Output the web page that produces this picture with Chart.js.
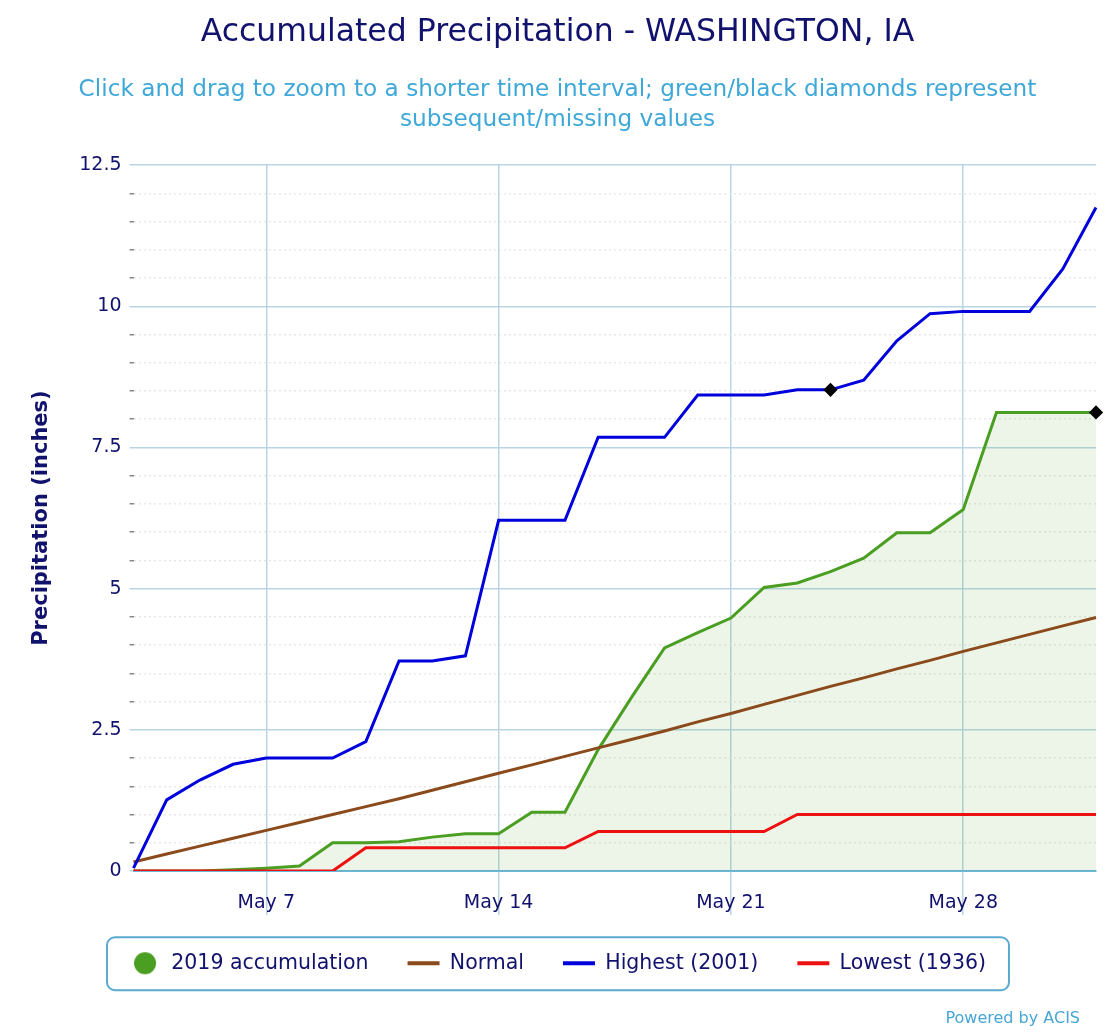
<!DOCTYPE html>
<html>
<head>
<meta charset="utf-8">
<title>Accumulated Precipitation - WASHINGTON, IA</title>
<script src="https://cdn.jsdelivr.net/npm/chart.js@4.4.1/dist/chart.umd.min.js"></script>
<style>
    html, body { margin: 0; padding: 0; background: #fff; }
    #wrap { position: relative; width: 1116px; height: 1032px; }
</style>
</head>
<body>
<div id="wrap"><canvas id="chartPrecip" width="1116" height="1032"></canvas></div>
<script>
// Days shown on the x axis
const dates = [
    'May 3', 'May 4', 'May 5', 'May 6', 'May 7', 'May 8', 'May 9', 'May 10',
    'May 11', 'May 12', 'May 13', 'May 14', 'May 15', 'May 16', 'May 17', 'May 18',
    'May 19', 'May 20', 'May 21', 'May 22', 'May 23', 'May 24', 'May 25', 'May 26',
    'May 27', 'May 28', 'May 29', 'May 30', 'May 31', 'Jun 1'
];
const tickLabels = ['May 7', 'May 14', 'May 21', 'May 28'];

// Accumulated precipitation (inches)
const accum2019 = [
    0, 0, 0, 0.02, 0.05, 0.09, 0.50, 0.50, 0.52, 0.60,
    0.66, 0.66, 1.04, 1.04, 2.15, 3.07, 3.95, 4.22, 4.48, 5.02,
    5.10, 5.30, 5.54, 5.99, 5.99, 6.40, 8.12, 8.12, 8.12, 8.12
];
const normal = [
    0.16, 0.30, 0.44, 0.58, 0.72, 0.86, 1.00, 1.14, 1.28, 1.43,
    1.58, 1.73, 1.88, 2.03, 2.18, 2.33, 2.48, 2.64, 2.79, 2.95,
    3.11, 3.27, 3.42, 3.58, 3.73, 3.89, 4.04, 4.19, 4.34, 4.49
];
const highest2001 = [
    0.05, 1.26, 1.61, 1.89, 2.00, 2.00, 2.00, 2.29, 3.72, 3.72,
    3.81, 6.21, 6.21, 6.21, 7.68, 7.68, 7.68, 8.43, 8.43, 8.43,
    8.52, 8.52, 8.69, 9.39, 9.87, 9.91, 9.91, 9.91, 10.66, 11.75
];
const lowest1936 = [
    0, 0, 0, 0, 0, 0, 0, 0.41, 0.41, 0.41,
    0.41, 0.41, 0.41, 0.41, 0.70, 0.70, 0.70, 0.70, 0.70, 0.70,
    1.00, 1.00, 1.00, 1.00, 1.00, 1.00, 1.00, 1.00, 1.00, 1.00
];

// Days carrying a black diamond (subsequent/missing values)
const diamondsHighest = ['May 24'];
const diamonds2019 = ['Jun 1'];

const NAVY = '#11116e';
const GRID = '#b9d5e4';
const FONT = '"DejaVu Sans", sans-serif';

const diamondRadius = (list) => (ctx) => list.includes(dates[ctx.dataIndex]) ? 5 : 0;

// Round legend marker for the 2019 series (keeps the line markers wide)
const dotMarker = (color) => {
    const c = document.createElement('canvas');
    c.width = 24; c.height = 24;
    const g = c.getContext('2d');
    g.fillStyle = color;
    g.beginPath();
    g.arc(12, 12, 11, 0, Math.PI * 2);
    g.fill();
    return c;
};

// Rounded frame around the legend + credit text
const legendFrame = {
    id: 'legendFrame',
    afterDraw(chart) {
        const lg = chart.legend;
        if (!lg || !lg.legendHitBoxes.length) return;
        const boxes = lg.legendHitBoxes;
        const left = Math.min(...boxes.map(b => b.left)) - 22;
        const right = Math.max(...boxes.map(b => b.left + b.width)) + 23;
        const mid = boxes[0].top + boxes[0].height / 2;
        const top = mid - 26, h = 53;
        const ctx = chart.ctx;
        ctx.save();
        ctx.strokeStyle = '#5aaacf';
        ctx.lineWidth = 2;
        ctx.beginPath();
        ctx.roundRect(left, top, right - left, h, 8);
        ctx.stroke();
        ctx.fillStyle = '#47a6d6';
        ctx.font = '16px ' + FONT;
        ctx.textAlign = 'right';
        ctx.textBaseline = 'alphabetic';
        ctx.fillText('Powered by ACIS', 1080, 1023);
        ctx.restore();
    }
};

const isMajor = (v) => Math.abs(v / 2.5 - Math.round(v / 2.5)) < 1e-6;

new Chart(document.getElementById('chartPrecip'), {
    type: 'line',
    data: {
        labels: dates,
        datasets: [
            {
                label: '2019 accumulation',
                data: accum2019,
                borderColor: '#4a9e22',
                backgroundColor: 'rgba(74, 158, 34, 0.1)',
                fill: 'origin',
                borderWidth: 3,
                pointStyle: 'rectRot',
                pointRadius: diamondRadius(diamonds2019),
                pointBackgroundColor: '#000',
                pointBorderColor: '#000',
                order: 4
            },
            {
                label: 'Normal',
                data: normal,
                borderColor: '#8b4a1c',
                borderWidth: 3,
                pointRadius: 0,
                order: 3
            },
            {
                label: 'Highest (2001)',
                data: highest2001,
                borderColor: '#0000dd',
                borderWidth: 3,
                pointStyle: 'rectRot',
                pointRadius: diamondRadius(diamondsHighest),
                pointBackgroundColor: '#000',
                pointBorderColor: '#000',
                order: 2
            },
            {
                label: 'Lowest (1936)',
                data: lowest1936,
                borderColor: '#ee1111',
                borderWidth: 3,
                pointRadius: 0,
                order: 1
            }
        ]
    },
    options: {
        responsive: false,
        animation: false,
        devicePixelRatio: 1,
        layout: { padding: { left: 19, right: 20, top: 0, bottom: 48.5 } },
        elements: { line: { tension: 0 } },
        plugins: {
            title: {
                display: true,
                text: 'Accumulated Precipitation - WASHINGTON, IA',
                color: NAVY,
                font: { family: FONT, size: 31.5, weight: 'normal', lineHeight: 1.2 },
                padding: { top: 14, bottom: 8 }
            },
            subtitle: {
                display: true,
                text: [
                    'Click and drag to zoom to a shorter time interval; green/black diamonds represent',
                    'subsequent/missing values'
                ],
                color: '#3ea8d8',
                font: { family: FONT, size: 23.2, lineHeight: 1.3 },
                padding: { top: 15, bottom: 30 }
            },
            legend: {
                position: 'bottom',
                labels: {
                    usePointStyle: true,
                    pointStyleWidth: 32,
                    boxHeight: 16,
                    padding: 39,
                    color: NAVY,
                    font: { family: FONT, size: 20.5 },
                    generateLabels(chart) {
                        return chart.data.datasets.map((ds, i) => ({
                            text: ds.label,
                            fillStyle: ds.borderColor,
                            strokeStyle: ds.borderColor,
                            lineWidth: i === 0 ? 0 : 4,
                            pointStyle: i === 0 ? dotMarker(ds.borderColor) : 'line',
                            fontColor: NAVY,
                            hidden: !chart.isDatasetVisible(i),
                            datasetIndex: i
                        }));
                    }
                }
            },
            tooltip: { enabled: false }
        },
        scales: {
            x: {
                type: 'category',
                offset: false,
                afterBuildTicks(scale) {
                    scale.ticks = scale.ticks.filter(t => tickLabels.includes(dates[t.value]));
                },
                afterFit(scale) {
                    // long tick marks run behind the labels, so fix the band height
                    scale.height = 43;
                },
                ticks: {
                    autoSkip: false,
                    maxRotation: 0,
                    color: NAVY,
                    padding: -21.5,
                    font: { family: FONT, size: 19, lineHeight: 1 },
                    callback: (v) => dates[v]
                },
                grid: {
                    color: GRID,
                    tickColor: GRID,
                    tickLength: 44,
                    lineWidth: 1.5
                },
                border: { color: '#6cb6d8', width: 2 }
            },
            y: {
                min: 0,
                max: 12.5,
                ticks: {
                    stepSize: 0.5,
                    autoSkip: false,
                    color: NAVY,
                    padding: 8,
                    font: { family: FONT, size: 19 },
                    callback: (v) => isMajor(v) ? String(+v.toFixed(1)) : ''
                },
                grid: {
                    color: (c) => isMajor(c.tick.value) ? GRID : '#e8e8e8',
                    tickColor: (c) => isMajor(c.tick.value) ? GRID : '#888',
                    lineWidth: 1.5,
                    tickLength: 4
                },
                border: {
                    display: false,
                    dash: (c) => isMajor(c.tick.value) ? [] : [2, 3]
                },
                title: {
                    display: true,
                    text: 'Precipitation (inches)',
                    color: NAVY,
                    font: { family: FONT, size: 21, weight: 'bold' },
                    padding: { top: 10, bottom: 17 }
                }
            }
        }
    },
    plugins: [legendFrame]
});
</script>
</body>
</html>
